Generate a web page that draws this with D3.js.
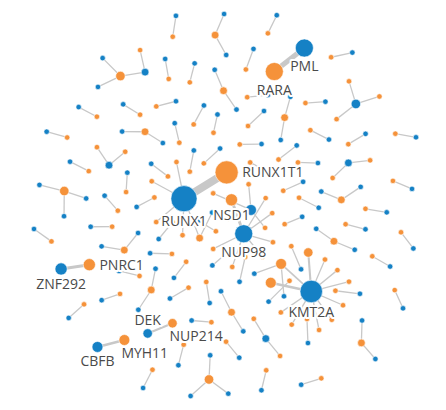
<!DOCTYPE html>
<html>
<head>
<meta charset="utf-8">
<script src="https://cdn.jsdelivr.net/npm/d3@7"></script>
<style>
  html, body { margin: 0; padding: 0; background: #fff; }
  svg { display: block; }
</style>
</head>
<body>
<script>
// ---- DATA: gene fusions as [5' gene, 3' gene, number of samples] ----
const kat6aFusions = [
  ["KAT6A", "CREBBP", 1], ["KAT6A", "EP300", 1], ["KAT6A", "NCOA2", 1], ["KAT6A", "LEUTX", 1]
];
const nup98Fusions = [
  ["NUP98", "NSD1", 5], ["NUP98", "KDM5A", 1], ["NUP98", "HOXA9", 1],
  ["NUP98", "HOXD13", 1], ["NUP98", "PRRX1", 1], ["NUP98", "DDX10", 1],
  ["NUP98", "TOP1", 1]
];
const runx1Fusions = [
  ["RUNX1", "RUNX1T1", 18], ["RUNX1", "MECOM", 1], ["RUNX1", "CBFA2T2", 1],
  ["RUNX1", "PRDM16", 1], ["RUNX1", "USP42", 1], ["RUNX1", "CLCA2", 1],
  ["RPN1", "MECOM", 1]
];
const dekFusions = [["DEK", "NUP214", 3]];
const kmt2aFusions = [
  ["KMT2A", "MLLT3", 4], ["KMT2A", "AFDN", 3], ["KMT2A", "MLLT10", 2],
  ["KMT2A", "ELL", 1], ["KMT2A", "MLLT1", 1], ["KMT2A", "SEPTIN6", 1],
  ["KMT2A", "SEPTIN9", 1], ["KMT2A", "EPS15", 1], ["KMT2A", "MLLT11", 1],
  ["KMT2A", "AFF1", 1], ["KMT2A", "USP2", 1],
  ["PICALM", "MLLT10", 1], ["DDX3X", "MLLT10", 1]
];
const pmlFusions = [["PML", "RARA", 11]];
const znf292Fusions = [["ZNF292", "PNRC1", 5]];
const cbfbFusions = [["CBFB", "MYH11", 4]];
const smallClustersA = [
  ["BCR", "ABL1", 1], ["BCR", "JAK2", 1],
  ["ETV6", "NTRK3", 1], ["ETV6", "MNX1", 1],
  ["MYB", "GATA1", 1], ["MYB", "NFIB", 1]
];
const smallClustersB = [
  ["KIAA1549", "BRAF", 1], ["AGK", "BRAF", 1],
  ["MEAF6", "PHF1", 1], ["EPC1", "PHF1", 1],
  ["FN1", "FGFR1", 1], ["ZMYM2", "FGFR1", 1],
  ["MALAT1", "GLI1", 1], ["ACTB", "GLI1", 1],
  ["CDH11", "USP6", 1], ["MYH9", "USP6", 1],
  ["BRD4", "NUTM1", 1], ["BRD3", "NUTM1", 1],
  ["CRTC1", "MAML2", 1], ["CRTC3", "MAML2", 1],
  ["MYO18A", "PDGFRB", 1], ["EBF1", "PDGFRB", 1]
];
const smallClustersC = [
  ["GOPC", "ROS1", 1], ["EZR", "ROS1", 1],
  ["SLMAP", "NTRK2", 1], ["QKI", "NTRK2", 1],
  ["SFPQ", "TFE3", 1], ["PRCC", "TFE3", 1], ["ASPSCR1", "TFE3", 1],
  ["EWSR1", "FLI1", 1], ["EWSR1", "ATF1", 1], ["EWSR1", "WT1", 1],
  ["LMNA", "NTRK1", 1], ["TPM3", "NTRK1", 1], ["TPR", "NTRK1", 1],
  ["TMPRSS2", "ERG", 1], ["SLC45A3", "ERG", 1], ["FUS", "ERG", 1], ["FUS", "DDIT3", 1]
];
const singleFusions = [
  ["FGFR3", "TACC3", 1], ["SS18", "SSX1", 1], ["PAX3", "FOXO1", 1], ["CCDC6", "RET", 1],
  ["CBFA2T3", "GLIS2", 1], ["TCF3", "PBX1", 1], ["ZMYND11", "MBTD1", 1], ["CIC", "DUX4", 1],
  ["NAB2", "STAT6", 1], ["COL1A1", "PDGFB", 1], ["DNAJB1", "PRKACA", 1], ["TAF15", "ZNF384", 1],
  ["STIL", "TAL1", 1], ["FIP1L1", "PDGFRA", 1], ["RBM15", "MRTFA", 1], ["PAX8", "PPARG", 1],
  ["FGFR2", "BICC1", 1], ["ESRP1", "RAF1", 1], ["PTPRK", "RSPO3", 1], ["EIF3E", "RSPO2", 1],
  ["TFG", "NR4A3", 1], ["ACSL3", "ETV1", 1], ["CD74", "NRG1", 1], ["YWHAE", "NUTM2B", 1],
  ["BCOR", "CCNB3", 1], ["JAZF1", "SUZ12", 1], ["HMGA2", "LPP", 1], ["CTNNB1", "PLAG1", 1],
  ["WWTR1", "CAMTA1", 1], ["NIPBL", "NACC1", 1], ["TBL1XR1", "TP63", 1], ["P2RY8", "CRLF2", 1],
  ["SSBP2", "CSF1R", 1], ["THADA", "IGF2BP3", 1], ["EML4", "ALK", 1], ["NPM1", "MLF1", 1],
  ["KANSL1", "ARL17A", 1], ["RPS6KB1", "VMP1", 1], ["MAN2A1", "FER", 1], ["CLDN18", "ARHGAP26", 1],
  ["EGFR", "SEPTIN14", 1], ["CAPZA2", "MET", 1], ["SEC16A", "NOTCH1", 1], ["NFIX", "MAST1", 1],
  ["GPBP1L1", "MAST2", 1], ["ESR1", "CCDC170", 1], ["PVT1", "MYC", 1], ["VTI1A", "TCF7L2", 1],
  ["ZFTA", "RELA", 1], ["YAP1", "MAMLD1", 1], ["MN1", "BEND2", 1], ["CLIP1", "LTK", 1],
  ["TRIO", "TERT", 1], ["ANKRD11", "ZNF778", 1], ["MIR143HG", "NOTCH2", 1], ["AFAP1", "RBFOX1", 1],
  ["ATG7", "RAF1B", 1], ["SND1", "PAX7", 1], ["ARID1A", "MAST3", 1], ["SQSTM1", "NTRK3B", 1],
  ["HNRNPA2B1", "ETV1B", 1], ["TRIM24", "BRAF2", 1]
];
const labeledGenes = ["RUNX1", "RUNX1T1", "PML", "RARA", "NUP98", "NSD1", "KMT2A",
  "ZNF292", "PNRC1", "CBFB", "MYH11", "DEK", "NUP214"];

// ---- build graph ----
const W = 446, H = 410;
const BLUE = "#1581c5", ORANGE = "#f5923a";
const allFusions = [
  ...kat6aFusions, ...singleFusions.slice(0, 2), ...nup98Fusions, ...runx1Fusions,
  ...singleFusions.slice(2, 26), ...smallClustersB, ...kmt2aFusions,
  ...singleFusions.slice(26, 33), ...smallClustersA, ...dekFusions,
  ...singleFusions.slice(33, 48), ...znf292Fusions, ...pmlFusions,
  ...singleFusions.slice(48, 51), ...cbfbFusions,
  ...smallClustersC, ...singleFusions.slice(51)
];
const nodeMap = new Map();
const links = allFusions.map(([s, t, v]) => {
  if (!nodeMap.has(s)) nodeMap.set(s, { id: s, role: "5p", value: 0 });
  if (!nodeMap.has(t)) nodeMap.set(t, { id: t, role: "3p", value: 0 });
  nodeMap.get(s).value += v;
  nodeMap.get(t).value += v;
  return { source: s, target: t, value: v };
});
const nodes = [...nodeMap.values()];

const rScale = d3.scaleSqrt().domain([0, 22]).range([0, 12.8]);
const wScale = d3.scaleLinear().domain([1, 18]).range([1.3, 8]);

// connected components (order of first appearance)
const parent = new Map(nodes.map(n => [n.id, n.id]));
const find = a => { while (parent.get(a) !== a) a = parent.get(a); return a; };
links.forEach(l => { const a = find(l.source), b = find(l.target); if (a !== b) parent.set(b, a); });
const comps = d3.groups(nodes, n => find(n.id)).map(g => g[1]);

// seed each component on a sunflower spiral, then relax with forces
const golden = Math.PI * (3 - Math.sqrt(5));
comps.forEach((members, k) => {
  const R = 20 * Math.sqrt(k + 0.5), a = k * golden;
  const cx = R * Math.cos(a), cy = R * Math.sin(a);
  if (members.length === 2) {
    const b = a + 0.61;
    members.forEach((n, j) => {
      const s = j === 0 ? 1 : -1;
      n.x = cx + s * 10 * Math.cos(b); n.y = cy + s * 10 * Math.sin(b);
    });
  } else {
    const sorted = members.slice().sort((p, q) => q.value - p.value);
    sorted.forEach((n, j) => {
      if (j === 0) { n.x = cx; n.y = cy; return; }
      const t = a + Math.PI - 0.3 + 2 * Math.PI * (j - 1) / (sorted.length - 1);
      const d = 14 + 1.6 * (rScale(sorted[0].value) + rScale(n.value));
      n.x = cx + d * Math.cos(t); n.y = cy + d * Math.sin(t);
    });
  }
});

const sim = d3.forceSimulation(nodes)
  .alpha(0.5)
  .force("link", d3.forceLink(links).id(d => d.id)
    .distance(l => 13 + 1.6 * (rScale(l.source.value) + rScale(l.target.value)))
    .strength(0.8))
  .force("charge", d3.forceManyBody().strength(d => -(14 + 3 * rScale(d.value))).distanceMax(55))
  .force("x", d3.forceX(0).strength(0.006))
  .force("y", d3.forceY(0).strength(0.006))
  .force("collide", d3.forceCollide(d => rScale(d.value) + 6))
  .stop();
for (let i = 0; i < 400; i++) sim.tick();

const x = d3.scaleLinear().domain(d3.extent(nodes, d => d.x)).range([34, 416]);
const y = d3.scaleLinear().domain(d3.extent(nodes, d => d.y)).range([14, 396]);

const svg = d3.select("body").append("svg").attr("width", W).attr("height", H);

svg.append("g").selectAll("line").data(links).join("line")
  .attr("x1", d => x(d.source.x)).attr("y1", d => y(d.source.y))
  .attr("x2", d => x(d.target.x)).attr("y2", d => y(d.target.y))
  .attr("stroke", "#c8c8c8")
  .attr("stroke-width", d => wScale(d.value));

svg.append("g").selectAll("circle").data(nodes).join("circle")
  .attr("cx", d => x(d.x)).attr("cy", d => y(d.y))
  .attr("r", d => rScale(d.value))
  .attr("fill", d => d.role === "5p" ? BLUE : ORANGE)
  .attr("stroke", "#fff").attr("stroke-width", 0.6);

// labels: pick the candidate spot with the least overlap (labels + labelled nodes + frame)
const labelled = nodes.filter(d => labeledGenes.includes(d.id))
  .sort((p, q) => q.value - p.value);
const lg = svg.append("g");
const placed = [];
const overlap = (a, b) => Math.max(0, Math.min(a.x1, b.x1) - Math.max(a.x0, b.x0)) *
  Math.max(0, Math.min(a.y1, b.y1) - Math.max(a.y0, b.y0));
labelled.forEach(d => {
  const t = lg.append("text")
    .attr("text-anchor", "middle")
    .attr("font-family", "'Open Sans', 'Segoe UI', sans-serif")
    .attr("font-size", 14)
    .attr("fill", "#4a4a4a")
    .attr("stroke", "#fff").attr("stroke-width", 4).attr("stroke-linejoin", "round")
    .attr("paint-order", "stroke")
    .text(d.id);
  const w = t.node().getComputedTextLength() + 2, h = 14;
  const cx = x(d.x), cy = y(d.y), r = rScale(d.value);
  const cands = [
    [cx, cy + r + 14], [cx + w / 2 - 4, cy + r + 13], [cx - w / 2 + 4, cy + r + 13],
    [cx + r + 3 + w / 2, cy + 5], [cx - r - 3 - w / 2, cy + 5],
    [cx, cy - r - 4], [cx + w / 2, cy - r - 3], [cx - w / 2, cy - r - 3],
    [cx, cy + r + 26], [cx + r + 3 + w / 2, cy + r + 12], [cx - r - 3 - w / 2, cy + r + 12]
  ];
  let best = null, bestScore = Infinity;
  cands.forEach(([lx, ly]) => {
    const box = { x0: lx - w / 2, x1: lx + w / 2, y0: ly - h + 3, y1: ly + 3 };
    let score = 0;
    placed.forEach(b => { score += overlap(box, b); });
    labelled.forEach(o => {
      const ox = x(o.x), oy = y(o.y), orr = rScale(o.value);
      score += overlap(box, { x0: ox - orr, x1: ox + orr, y0: oy - orr, y1: oy + orr }) * 2;
    });
    if (box.x0 < 2 || box.x1 > W - 2 || box.y0 < 2 || box.y1 > H - 2) score += 500;
    if (score < bestScore - 1e-9) { bestScore = score; best = { lx, ly, box }; }
  });
  placed.push(best.box);
  t.attr("x", best.lx).attr("y", best.ly);
});
</script>
</body>
</html>
